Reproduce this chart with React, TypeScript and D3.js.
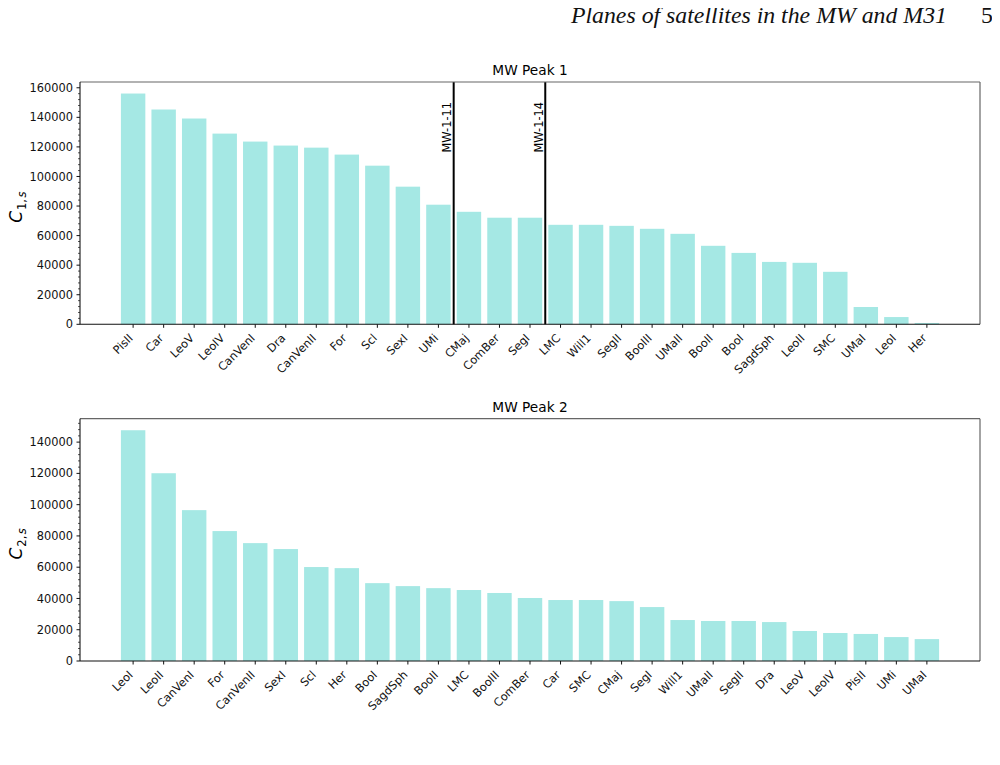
import React from "react";
import { scaleLinear, range, max } from "d3";

// Peak 1 (sorted as in the figure)
const peak1Names = [
  "PisII", "Car", "LeoV", "LeoIV", "CanVenI", "Dra", "CanVenII", "For", "Scl",
  "SexI", "UMi", "CMaj", "ComBer", "SegI", "LMC", "Will1", "SegII", "BooIII",
  "UMaII", "BooII", "BooI", "SagdSph", "LeoII", "SMC", "UMaI", "LeoI", "Her",
];
const peak1Values = [
  156100, 145300, 139200, 129000, 123600, 120900, 119500, 114800, 107300,
  93100, 80900, 76100, 72100, 72100, 67300, 67300, 66600, 64600,
  61200, 53100, 48300, 42200, 41600, 35500, 11700, 4900, 900,
];
const peak1Lines = [
  { at: 10.5, label: "MW-1-11" },
  { at: 13.5, label: "MW-1-14" },
];
const peak1Ticks = [0, 20000, 40000, 60000, 80000, 100000, 120000, 140000, 160000];

// Peak 2
const peak2Names = [
  "LeoI", "LeoII", "CanVenI", "For", "CanVenII", "SexI", "Scl", "Her", "BooI",
  "SagdSph", "BooII", "LMC", "BooIII", "ComBer", "Car", "SMC", "CMaj", "SegI",
  "Will1", "UMaII", "SegII", "Dra", "LeoV", "LeoIV", "PisII", "UMi", "UMaI",
];
const peak2Values = [
  147600, 120100, 96500, 83100, 75400, 71600, 60100, 59400, 49800,
  47900, 46600, 45400, 43500, 40300, 39000, 39000, 38300, 34500,
  26200, 25600, 25600, 24900, 19200, 17900, 17300, 15300, 14000,
];
const peak2Ticks = [0, 20000, 40000, 60000, 80000, 100000, 120000, 140000];

const BAR = "#a5e8e4";
const FONT = "'DejaVu Sans', sans-serif";

type PanelProps = {
  names: string[];
  values: number[];
  ticks: number[];
  title: string;
  sub: string;
  top: number;
  bottom: number;
  lines?: { at: number; label: string }[];
};

const Panel = ({ names, values, ticks, title, sub, top, bottom, lines = [] }: PanelProps) => {
  const left = 80;
  const right = 980;
  const n = names.length;
  const pad = (n - 1 + 0.8) * 0.05;
  const x = scaleLinear().domain([-0.4 - pad, n - 0.6 + pad]).range([left, right]);
  const y = scaleLinear().domain([0, (max(values) as number) * 1.05]).range([bottom, top]);
  const step = ticks[1] - ticks[0];
  const minor = range(0, y.domain()[1], step / 5).filter((v) => v % step !== 0);
  const bw = x(0.8) - x(0);

  return (
    <g fontFamily={FONT}>
      {values.map((v, i) => (
        <rect key={i} x={x(i - 0.4)} width={bw} y={y(v)} height={y(0) - y(v)} fill={BAR} />
      ))}
      {lines.map((l) => (
        <g key={l.label}>
          <line x1={x(l.at)} x2={x(l.at)} y1={top} y2={bottom} stroke="#000" strokeWidth={2} />
          <text
            transform={`translate(${x(l.at) - 2.5},${top + 20}) rotate(-90)`}
            textAnchor="end"
            fontSize={11.4}
            fill="#000"
          >
            {l.label}
          </text>
        </g>
      ))}
      {/* spines */}
      <line x1={left} x2={right} y1={top} y2={top} stroke="#666" strokeWidth={1.2} />
      <line x1={right} x2={right} y1={top} y2={bottom} stroke="#666" strokeWidth={1.2} />
      <line x1={left} x2={left} y1={top} y2={bottom} stroke="#111" strokeWidth={1.1} />
      <line x1={left} x2={right} y1={bottom} y2={bottom} stroke="#111" strokeWidth={1.1} />
      {/* y ticks */}
      {ticks.map((t) => (
        <g key={t}>
          <line x1={left - 3.5} x2={left} y1={y(t)} y2={y(t)} stroke="#111" />
          <text x={left - 7} y={y(t)} dy="0.36em" textAnchor="end" fontSize={11.4} fill="#111">
            {t}
          </text>
        </g>
      ))}
      {minor.map((t) => (
        <line key={t} x1={left - 2} x2={left} y1={y(t)} y2={y(t)} stroke="#111" strokeWidth={0.7} />
      ))}
      {/* x ticks */}
      {names.map((name, i) => (
        <g key={name}>
          <line x1={x(i)} x2={x(i)} y1={bottom} y2={bottom + 3.5} stroke="#111" />
          <text
            transform={`translate(${x(i) + 0.5},${bottom + 14.5}) rotate(-45)`}
            textAnchor="end"
            fontSize={11.4}
            fill="#111"
          >
            {name}
          </text>
        </g>
      ))}
      <text x={(left + right) / 2} y={top - 7} textAnchor="middle" fontSize={13.7} fill="#000">
        {title}
      </text>
      <text
        transform={`translate(${22},${(top + bottom) / 2 + 4}) rotate(-90)`}
        textAnchor="middle"
        fontSize={17}
        fill="#000"
      >
        <tspan fontStyle="italic">C</tspan>
        <tspan fontSize={11.5} dx={1} dy={3.5}>{sub}</tspan>
        <tspan fontSize={11.5}>,</tspan>
        <tspan fontSize={11.5} dx={1.5} fontStyle="italic">s</tspan>
      </text>
    </g>
  );
};

export default function App() {
  return (
    <svg width={1000} height={765} style={{ display: "block", margin: -8, background: "#fff" }}>
      <rect width={1000} height={765} fill="#fff" />
      <text
        x={947}
        y={23}
        textAnchor="end"
        fontFamily="'Liberation Serif', serif"
        fontStyle="italic"
        fontSize={23.8}
        fill="#111"
      >
        Planes of satellites in the MW and M31
      </text>
      <text x={993} y={23} textAnchor="end" fontFamily="'Liberation Serif', serif" fontSize={23.8} fill="#111">
        5
      </text>
      <Panel
        names={peak1Names}
        values={peak1Values}
        ticks={peak1Ticks}
        title="MW Peak 1"
        sub="1"
        top={82}
        bottom={324.3}
        lines={peak1Lines}
      />
      <Panel
        names={peak2Names}
        values={peak2Values}
        ticks={peak2Ticks}
        title="MW Peak 2"
        sub="2"
        top={418.7}
        bottom={661}
      />
    </svg>
  );
}
